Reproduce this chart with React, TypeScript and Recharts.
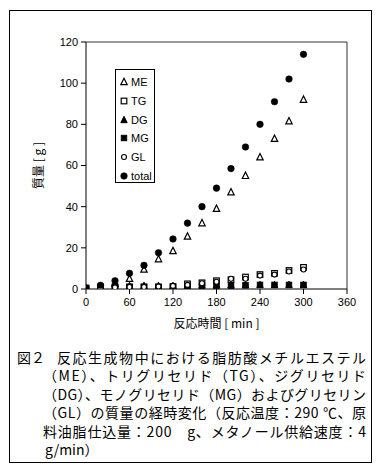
import React from 'react';
import {
  ScatterChart,
  Scatter,
  XAxis,
  YAxis,
  ReferenceLine,
  Legend,
} from 'recharts';

const times = [0, 20, 40, 60, 80, 100, 120, 140, 160, 180, 200, 220, 240, 260, 280, 300];
const meValues = [0, 0.5, 2.5, 5, 9.5, 14.5, 18.5, 25.5, 32, 39, 47, 55, 64, 73, 81.5, 92];
const tgValues = [0.5, 1, 1, 1, 1, 1, 1.2, 2.5, 3, 4, 4.5, 5.8, 7, 7.6, 9, 10.5];
const dgValues = [0.3, 1, 3, 1.5, 1.5, 1.5, 1.5, 1.5, 1.8, 2, 2, 2, 2, 2, 2, 2];
const mgValues = [0.3, 0.5, 0.8, 1, 1, 1, 1, 1.2, 1.5, 1.5, 1.5, 1.8, 2, 2, 2, 2];
const glValues = [0, 0.5, 0.8, 1, 1, 1.2, 1.5, 2, 2.8, 3.5, 5, 5, 6.5, 7, 8.5, 9.5];
const totalValues = [0.5, 1.8, 4, 7.6, 11.5, 17.6, 24.3, 32, 40, 49, 58.5, 69, 80, 91, 102, 114];

const xTicks = [0, 60, 120, 180, 240, 300, 360];
const yTicks = [0, 20, 40, 60, 80, 100, 120];

const seriesNames = ['ME', 'TG', 'DG', 'MG', 'GL', 'total'];

const captionLines = [
  '（ME）、トリグリセリド（TG）、ジグリセリド',
  '（DG）、モノグリセリド（MG）およびグリセリン',
  '（GL）の質量の経時変化（反応温度：290 ℃、原',
  '料油脂仕込量：200　g、メタノール供給速度：4',
];

const toPoints = (vals: number[]) => times.map((t, i) => ({ x: t, y: vals[i] }));

type ShapeKind = 'openTri' | 'openSq' | 'fillTri' | 'fillSq' | 'openCirc' | 'fillCirc';
const kinds: ShapeKind[] = ['openTri', 'openSq', 'fillTri', 'fillSq', 'openCirc', 'fillCirc'];

const Marker = ({ kind, cx, cy }: { kind: ShapeKind; cx: number; cy: number }) => {
  const s = 3.2;
  switch (kind) {
    case 'openTri':
      return (
        <polygon
          points={`${cx},${cy - s - 0.5} ${cx - s},${cy + s - 0.5} ${cx + s},${cy + s - 0.5}`}
          fill="#fff"
          stroke="#000"
          strokeWidth={1.2}
        />
      );
    case 'fillTri':
      return (
        <polygon
          points={`${cx},${cy - s - 0.5} ${cx - s},${cy + s - 0.5} ${cx + s},${cy + s - 0.5}`}
          fill="#000"
          stroke="#000"
          strokeWidth={1}
        />
      );
    case 'openSq':
      return (
        <rect x={cx - 2.8} y={cy - 2.8} width={5.6} height={5.6} fill="#fff" stroke="#000" strokeWidth={1.2} />
      );
    case 'fillSq':
      return <rect x={cx - 2.8} y={cy - 2.8} width={5.6} height={5.6} fill="#000" stroke="#000" strokeWidth={0.8} />;
    case 'openCirc':
      return <circle cx={cx} cy={cy} r={2.5} fill="#fff" stroke="#000" strokeWidth={1.1} />;
    case 'fillCirc':
    default:
      return <circle cx={cx} cy={cy} r={3.3} fill="#000" stroke="#000" strokeWidth={0.5} />;
  }
};

const makeShape = (kind: ShapeKind) => (props: any) => <Marker kind={kind} cx={props.cx} cy={props.cy} />;

const renderLegend = () => (
  <div
    style={{
      width: 40,
      height: 114,
      border: '1px solid #000',
      background: '#fff',
      boxSizing: 'border-box',
      position: 'relative',
      fontFamily: '"Liberation Sans", Arial, sans-serif',
      fontSize: 11,
      color: '#000',
    }}
  >
    {seriesNames.map((name, i) => (
      <div
        key={name}
        style={{
          position: 'absolute',
          left: 3,
          top: 5 + i * 18.8,
          height: 14,
          display: 'flex',
          alignItems: 'center',
        }}
      >
        <svg width={10} height={14} style={{ display: 'block' }}>
          <Marker kind={kinds[i]} cx={5} cy={7} />
        </svg>
        <span style={{ marginLeft: 2, lineHeight: '14px' }}>{name}</span>
      </div>
    ))}
  </div>
);

const tickStyle = { fontFamily: '"Liberation Sans", Arial, sans-serif', fontSize: 11, fill: '#000' };

export default function App() {
  const data = [meValues, tgValues, dgValues, mgValues, glValues, totalValues].map(toPoints);
  return (
    <div style={{ position: 'absolute', left: 0, top: 0, width: 385, height: 475, background: '#fff' }}>
      <div
        style={{
          position: 'absolute',
          left: 9,
          top: 10,
          width: 363,
          height: 453,
          border: '1px solid #000',
          boxSizing: 'border-box',
        }}
      />
      <div style={{ position: 'absolute', left: 0, top: 0 }}>
        <ScatterChart width={385} height={340} margin={{ top: 42, right: 38, left: 0, bottom: 9 }}>
          <XAxis
            type="number"
            dataKey="x"
            domain={[0, 360]}
            ticks={xTicks}
            interval={0}
            tickSize={5}
            tickMargin={4}
            height={42}
            stroke="#000"
            tick={tickStyle}
            allowDataOverflow
            label={{
              value: '反応時間 [ min ]',
              position: 'insideBottom',
              offset: 3,
              style: { fontFamily: '"Noto Sans CJK JP", sans-serif', fontSize: 12, fill: '#000' },
            }}
          />
          <YAxis
            type="number"
            dataKey="y"
            domain={[0, 120]}
            ticks={yTicks}
            interval={0}
            width={86}
            tickSize={5}
            tickMargin={3}
            stroke="#000"
            tick={tickStyle}
            allowDataOverflow
            label={{
              value: '質量 [ g ]',
              angle: -90,
              position: 'center',
              dx: -4,
              style: { fontFamily: '"Noto Sans CJK JP", sans-serif', fontSize: 12, fill: '#000', textAnchor: 'middle' },
            }}
          />
          <ReferenceLine y={120} stroke="#333" strokeWidth={1} ifOverflow="visible" />
          <ReferenceLine x={360} stroke="#333" strokeWidth={1} ifOverflow="visible" />
          {data.map((pts, i) => (
            <Scatter
              key={seriesNames[i]}
              name={seriesNames[i]}
              data={pts}
              shape={makeShape(kinds[i])}
              isAnimationActive={false}
            />
          ))}
          <Legend
            layout="vertical"
            align="center"
            verticalAlign="middle"
            content={renderLegend}
            wrapperStyle={{ left: 115, top: 69, width: 40, height: 114 }}
          />
        </ScatterChart>
      </div>
      <svg
        width={385}
        height={135}
        style={{ position: 'absolute', left: 0, top: 340 }}
        fontFamily='"Noto Sans CJK JP", sans-serif'
        fontSize={14}
        fill="#000"
      >
        <text x={17} y={23}>図２</text>
        <text x={57} y={23} textLength={309} lengthAdjust="spacing">
          反応生成物中における脂肪酸メチルエステル
        </text>
        {captionLines.map((line, i) => (
          <text key={i} x={43} y={23 + (i + 1) * 18.4} textLength={323} lengthAdjust="spacing">
            {line}
          </text>
        ))}
        <text x={45} y={23 + 5 * 18.4}>g/min）</text>
      </svg>
    </div>
  );
}
